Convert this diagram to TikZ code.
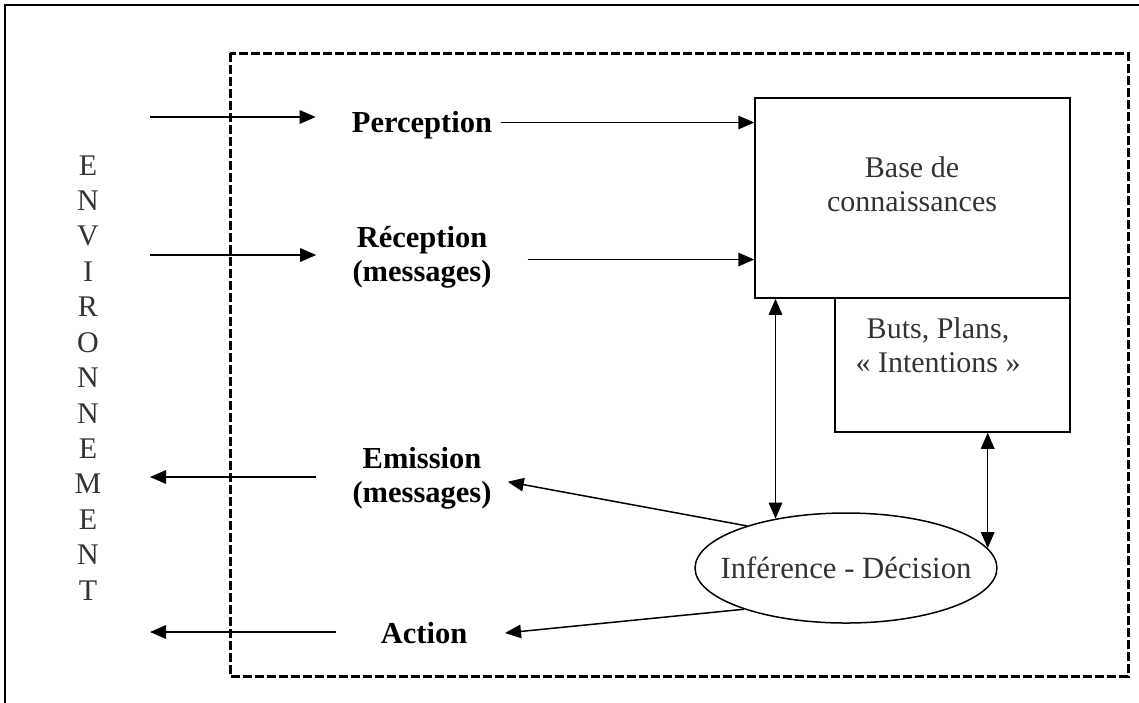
\documentclass[tikz,border=0pt]{standalone}
\usepackage{fontspec}
\setmainfont{Liberation Serif}
\usepackage{tikz}
\usetikzlibrary{arrows.meta,shapes.geometric}

\begin{document}
\begin{tikzpicture}[x=0.4pt, y=-0.4pt,
    >={Triangle[length=6.4pt,width=5.4pt]},
    every node/.style={font=\fontsize{12}{13.5}\selectfont},
    lbl/.style={align=center, font=\fontsize{12.2}{13.5}\selectfont\bfseries},
    txt/.style={align=center, text=black!80},
    box/.style={rectangle, draw, line width=0.6pt}]

\useasboundingbox (0,0) rectangle (1139,702);
\clip (0,0) rectangle (1139,702);

% Frame
\draw[line width=0.9pt] (5,5) rectangle (1160,720);

% Agent
\draw[line width=1.2pt, dash pattern=on 3.6pt off 1.2pt] (230,53) rectangle (1128,676);

% Environment
\foreach \l [count=\i] in {E,N,V,I,R,O,N,N,E,M,E,N,T}
{
    \node[text=black!80] (env-\i) at (88,130+35.4*\i) {\l};
}

% Labels
\node[lbl] (perc) at (422,125) {Perception};
\node[lbl] (recep) at (422,257) {Réception\\(messages)};
\node[lbl] (emis) at (422,478) {Emission\\(messages)};
\node[lbl] (act) at (424,633) {Action};

% Boxes
\node[box, minimum width=126pt, minimum height=80pt] (base) at (912.5,198) {};
\node[txt] (base-txt) at (912,184) {Base de\\connaissances};
\node[box, minimum width=94pt, minimum height=53.6pt] (buts) at (952.5,365) {};
\node[txt] (buts-txt) at (938,345) {Buts, Plans,\\« Intentions »};

\node[ellipse, draw, line width=0.6pt, inner xsep=-7.5pt, inner ysep=0pt,
    minimum height=44pt, text=black!80,
    font=\fontsize{12.3}{13.5}\selectfont]
    (infdec) at (846,568) {Inférence - Décision};

% Inputs
\foreach \i/\n/\y in {1/perc/117, 2/recep/255}
{
    \coordinate (in-\i) at (150,\y);
    \draw[->, line width=0.6pt, shorten >=11pt] (in-\i) -- (in-\i -| \n.west);
}

% Outputs
\foreach \i/\n/\y/\s in {1/emis/477/11pt, 2/act/632/14.4pt}
{
    \coordinate (out-\i) at (150,\y);
    \draw[->, line width=0.6pt, shorten <=\s] (out-\i -| \n.west) -- (out-\i);
}

% Into the knowledge base
\draw[->, line width=0.6pt] ([yshift=1pt]perc.east) -- ([yshift=1pt]perc.east -| base.west);
\draw[->, line width=0.6pt, shorten <=11pt] ([yshift=-1pt]recep.east) -- ([yshift=-1pt]recep.east -| base.west);

% Inference
\draw[<->, line width=0.6pt] (infdec.145) -- (infdec.145 |- base.south);
\draw[<->, line width=0.6pt] (infdec.8) -- (infdec.8 |- buts.south);
\draw[->, line width=0.6pt] (infdec.157) -- ([xshift=3pt,yshift=-1.5pt]emis.east);
\draw[->, line width=0.6pt] (infdec.202) -- ([xshift=11.6pt]act.east);

\end{tikzpicture}
\end{document}
